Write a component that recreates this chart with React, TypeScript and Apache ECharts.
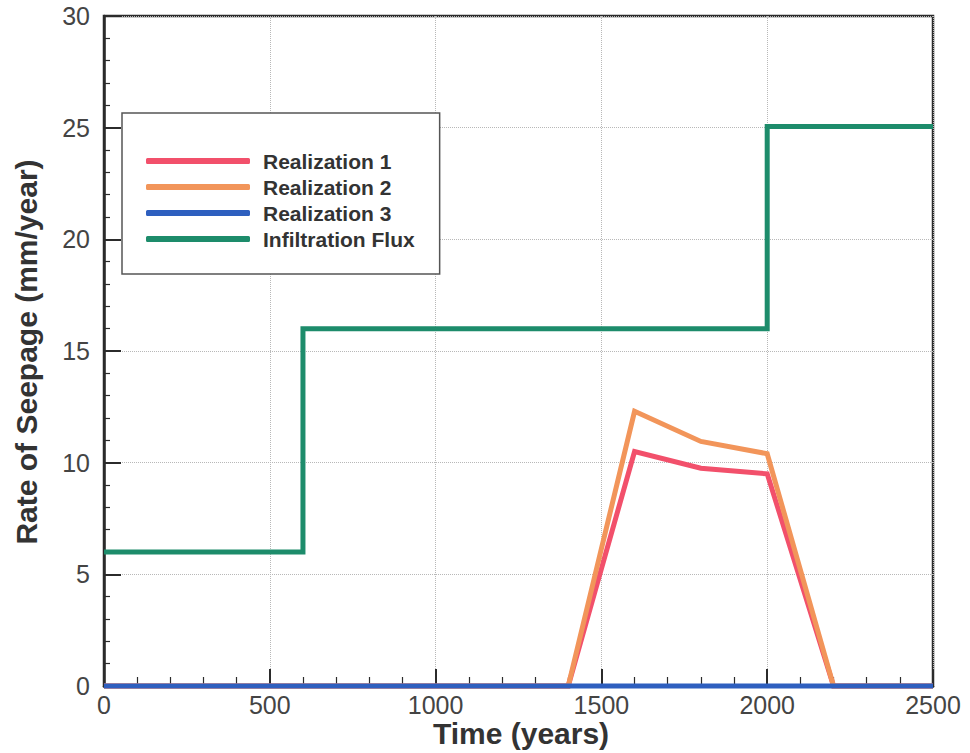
import React, { useEffect, useRef } from "react";
import * as echarts from "echarts";

const timeRealization = [0, 1400, 1600, 1800, 2000, 2200, 2500];
const realization1 = [0, 0, 10.5, 9.75, 9.5, 0, 0];
const realization2 = [0, 0, 12.3, 10.95, 10.4, 0, 0];
const timeRealization3 = [0, 2500];
const realization3 = [0, 0];
const timeInfiltration = [0, 600, 2000, 2500];
const infiltrationFlux = [6, 16, 25.05, 25.05];

const seriesNames = ["Realization 1", "Realization 2", "Realization 3", "Infiltration Flux"];
const seriesColors = ["#f2506b", "#f2955a", "#2e5fbf", "#1d8c6b"];

const zip = (xs: number[], ys: number[]) => xs.map((x, i) => [x, ys[i]]);

export default function App() {
  const ref = useRef<HTMLDivElement>(null);
  useEffect(() => {
    if (!ref.current) return;
    const chart = echarts.init(ref.current, undefined, { renderer: "svg" });
    const font = "Liberation Sans, Arial, Helvetica, sans-serif";
    const axisDark = "#2b2b2b";
    const lineSeries = (name: string, data: number[][], color: string, extra: any = {}) => ({
      name,
      type: "line",
      data,
      showSymbol: false,
      symbol: "none",
      clip: false,
      lineStyle: { color, width: 5, cap: "butt", join: "miter" },
      itemStyle: { color },
      ...extra,
    });
    chart.setOption({
      animation: false,
      backgroundColor: "#ffffff",
      textStyle: { fontFamily: font },
      grid: {
        left: 104,
        right: 37,
        top: 16,
        bottom: 67,
        show: true,
        borderColor: axisDark,
        borderWidth: 2.5,
        backgroundColor: "transparent",
      },
      legend: {
        show: true,
        data: seriesNames.map((n, i) => ({ name: n, itemStyle: { color: seriesColors[i] } })),
        orient: "vertical",
        left: 122,
        top: 113,
        icon: "roundRect",
        itemWidth: 104,
        itemHeight: 6,
        itemGap: 4,
        padding: [37, 25, 24, 24],
        borderColor: "#555",
        borderWidth: 1.5,
        backgroundColor: "#ffffff",
        textStyle: {
          fontFamily: font,
          fontSize: 21,
          fontWeight: "bold",
          color: "#333",
          lineHeight: 22,
          padding: [0, 0, 0, 8],
        },
      },
      xAxis: {
        type: "value",
        min: 0,
        max: 2500,
        interval: 500,
        axisLine: { show: true, lineStyle: { color: axisDark, width: 2.5 } },
        axisTick: { show: true, inside: true, length: 17, lineStyle: { color: axisDark, width: 2 } },
        minorTick: { show: true, splitNumber: 5, length: 9, lineStyle: { color: axisDark, width: 1.2 } },
        splitLine: { show: true, lineStyle: { color: "#b8b8b8", type: "dotted", width: 1 } },
        axisLabel: {
          fontSize: 25,
          color: "#444",
          margin: 6,
          fontFamily: font,
          formatter: (v: number) => String(v),
        },
      },
      yAxis: {
        type: "value",
        min: 0,
        max: 30,
        interval: 5,
        axisLine: { show: true, lineStyle: { color: axisDark, width: 2.5 } },
        axisTick: { show: true, inside: true, length: 17, lineStyle: { color: axisDark, width: 2 } },
        minorTick: { show: true, splitNumber: 5, length: 6, lineStyle: { color: axisDark, width: 1.2 } },
        splitLine: { show: true, lineStyle: { color: "#b8b8b8", type: "dotted", width: 1 } },
        axisLabel: {
          fontSize: 25,
          color: "#444",
          margin: 14,
          fontFamily: font,
          formatter: (v: number) => String(v),
        },
      },
      graphic: [
        {
          type: "text",
          x: 26,
          y: 352,
          rotation: Math.PI / 2,
          style: {
            text: "Rate of Seepage (mm/year)",
            fontSize: 30,
            fontWeight: "bold",
            fontFamily: font,
            fill: "#333",
            textAlign: "center",
            textVerticalAlign: "middle",
          },
        },
        {
          type: "text",
          x: 521,
          y: 733,
          style: {
            text: "Time (years)",
            fontSize: 30,
            fontWeight: "bold",
            fontFamily: font,
            fill: "#333",
            textAlign: "center",
            textVerticalAlign: "middle",
          },
        },
      ],
      series: [
        lineSeries(seriesNames[0], zip(timeRealization, realization1), seriesColors[0]),
        lineSeries(seriesNames[1], zip(timeRealization, realization2), seriesColors[1]),
        lineSeries(seriesNames[2], zip(timeRealization3, realization3), seriesColors[2]),
        lineSeries(seriesNames[3], zip(timeInfiltration, infiltrationFlux), seriesColors[3], { step: "end" }),
      ],
    });
    return () => chart.dispose();
  }, []);
  return <div ref={ref} style={{ width: 970, height: 753, position: "absolute", left: 0, top: 0 }} />;
}
